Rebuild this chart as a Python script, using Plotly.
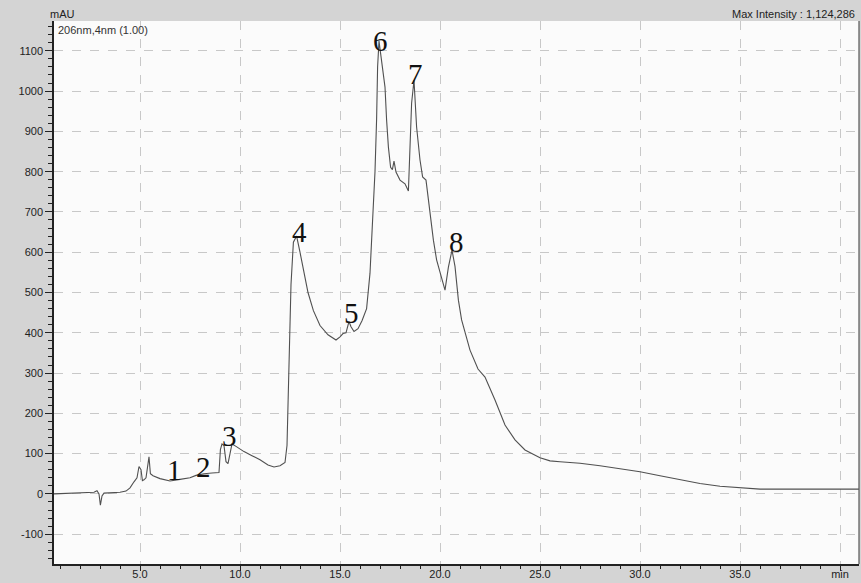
import plotly.graph_objects as go

# ---- data ----
time_min = [0.7, 1.5, 2.0, 2.5, 2.7, 2.85, 2.95, 3.02, 3.1, 3.2, 3.5, 4.0, 4.3, 4.5, 4.7, 4.85,
            4.95, 5.05, 5.12, 5.2, 5.3, 5.4, 5.45, 5.52, 5.65, 6.0, 6.5, 7.0, 7.5, 7.8, 8.2,
            8.6, 8.95, 9.02, 9.1, 9.2, 9.3, 9.4, 9.5, 9.6, 9.8, 10.2, 10.6, 11.0, 11.4, 11.7,
            12.0, 12.25, 12.35, 12.45, 12.55, 12.67, 12.83, 13.0, 13.17, 13.4, 13.67, 14.0,
            14.4, 14.8, 15.0, 15.15, 15.3, 15.45, 15.55, 15.7, 15.9, 16.1, 16.33, 16.5, 16.65,
            16.75, 16.83, 16.88, 16.95, 17.08, 17.25, 17.33, 17.42, 17.53, 17.62, 17.7, 17.8,
            18.0, 18.25, 18.42, 18.5, 18.58, 18.7, 18.83, 19.0, 19.13, 19.3, 19.5, 19.67,
            19.83, 20.08, 20.25, 20.42, 20.6, 20.75, 20.92, 21.08, 21.5, 21.9, 22.25, 22.75,
            23.25, 23.75, 24.25, 25.0, 25.5, 26.0, 26.5, 27.0, 28.0, 29.0, 30.0, 31.0, 32.0,
            33.0, 34.0, 35.0, 36.0, 38.0, 40.95]
intensity_mau = [0, 1, 2, 2, 4, 8, 0, -28, -5, 2, 3, 4, 7, 15, 30, 40,
                 68, 60, 33, 35, 40, 85, 92, 50, 45, 38, 32, 36, 40, 46, 50,
                 52, 53, 110, 124, 120, 80, 75, 100, 124, 118, 105, 95, 85, 72, 67,
                 70, 78, 120, 300, 520, 625, 640, 600, 556, 500, 455, 418,
                 395, 382, 390, 398, 400, 428, 415, 403, 410, 430, 460, 548, 700,
                 800, 930, 1060, 1124, 1077, 1010, 928, 861, 811, 805, 826, 799,
                 779, 770, 752, 846, 970, 1027, 911, 829, 787, 779, 697, 630,
                 581, 539, 506, 563, 605, 565, 481, 432, 357, 310, 290, 233,
                 171, 134, 109, 90, 82, 80, 78, 76, 70, 63, 55, 45, 35,
                 26, 19, 15, 12, 12, 12]

peak_ids = ["1", "2", "3", "4", "5", "6", "7", "8"]
peak_label_t = [6.7, 8.15, 9.45, 12.95, 15.55, 17.0, 18.75, 20.8]
peak_label_y = [60, 67, 144, 650, 450, 1124, 1042, 625]

x_tick_vals = [5, 10, 15, 20, 25, 30, 35, 40]
x_tick_text = ["5.0", "10.0", "15.0", "20.0", "25.0", "30.0", "35.0", "min"]
y_tick_vals = [-100, 0, 100, 200, 300, 400, 500, 600, 700, 800, 900, 1000, 1100]
y_tick_text = ["-100", "0", "100", "200", "300", "400", "500", "600", "700", "800",
               "900", "1000", "1100"]

x_range = [0.7, 40.95]
y_range = [-174, 1174]

fig = go.Figure()
fig.add_trace(go.Scatter(x=time_min, y=intensity_mau, mode="lines",
                         line=dict(color="#505050", width=1.1), hoverinfo="x+y",
                         showlegend=False))

for pid, pt, py in zip(peak_ids, peak_label_t, peak_label_y):
    fig.add_annotation(x=pt, y=py, text=pid, showarrow=False,
                       font=dict(family="Liberation Serif", size=29, color="#111"),
                       xanchor="center", yanchor="middle")

tick_font = dict(family="Liberation Sans", size=11, color="#222")
fig.update_xaxes(range=x_range, tickvals=x_tick_vals, ticktext=x_tick_text,
                 automargin=False,
                 showgrid=True, gridcolor="#c8c8c8", griddash="dash", gridwidth=1,
                 showline=True, linecolor="#222", linewidth=1.5, zeroline=False,
                 ticks="outside", ticklen=5, tickcolor="#222", tickfont=tick_font,
                 ticklabelstandoff=-6,
                 minor=dict(dtick=1, tick0=0, ticks="outside", ticklen=3, tickcolor="#222",
                            showgrid=False))
fig.update_yaxes(range=y_range, tickvals=y_tick_vals, ticktext=y_tick_text,
                 automargin=False,
                 showgrid=True, gridcolor="#c8c8c8", griddash="dash", gridwidth=1,
                 showline=True, linecolor="#222", linewidth=1.5, zeroline=False,
                 ticks="outside", ticklen=7, tickcolor="#222", tickfont=tick_font,
                 minor=dict(dtick=20, tick0=0, ticks="outside", ticklen=4, tickcolor="#222",
                            showgrid=False))

# right border of plot frame
fig.add_shape(type="line", xref="paper", yref="paper", x0=1, x1=1, y0=0, y1=1,
              line=dict(color="#555", width=1.2))

fig.add_annotation(xref="paper", yref="paper", x=0.003, y=0.998, text="206nm,4nm (1.00)",
                   showarrow=False, xanchor="left", yanchor="top",
                   font=dict(family="Liberation Sans", size=11, color="#333"))
fig.add_annotation(xref="paper", yref="paper", x=-0.008, y=1.0, text="mAU",
                   showarrow=False, xanchor="left", yanchor="bottom", yshift=-1,
                   font=dict(family="Liberation Sans", size=11, color="#222"))
fig.add_annotation(xref="paper", yref="paper", x=0.998, y=1.0,
                   text="Max Intensity : 1,124,286",
                   showarrow=False, xanchor="right", yanchor="bottom", yshift=-1,
                   font=dict(family="Liberation Sans", size=11, color="#222"))

fig.update_layout(width=861, height=583,
                  margin=dict(l=54, r=2, t=21, b=19),
                  paper_bgcolor="#d4d4d4", plot_bgcolor="#fbfbfb",
                  showlegend=False)

fig.write_html("out.html",
               config={"displayModeBar": False},
               post_script="document.body.style.margin='0';"
                           "document.body.style.padding='0';"
                           "document.body.style.overflow='hidden';"
                           "document.body.style.background='#d4d4d4';")
